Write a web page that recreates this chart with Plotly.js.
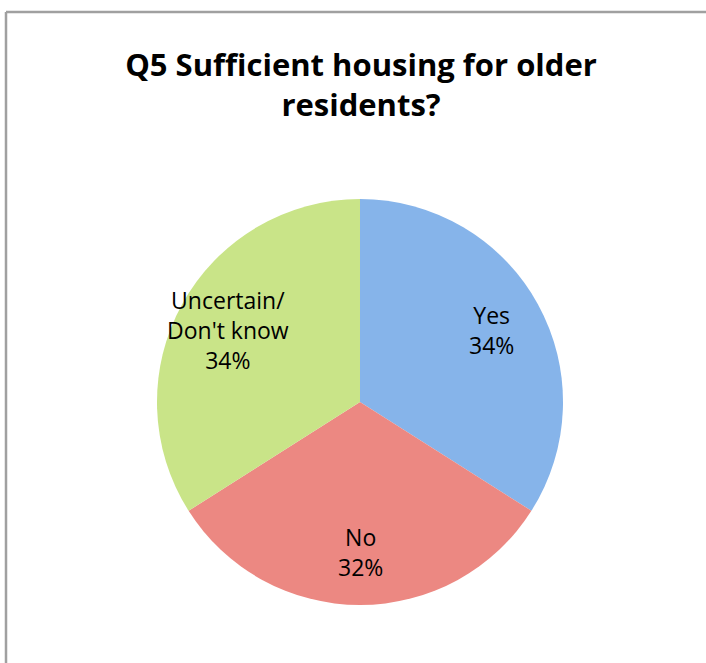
<!DOCTYPE html>
<html>
<head>
<meta charset="utf-8">
<script src="https://cdn.plot.ly/plotly-3.0.1.min.js"></script>
<style>html,body{margin:0;padding:0;background:#fff;}#chart{width:706px;height:663px;}</style>
</head>
<body>
<div id="chart"></div>
<script>
const categories = ["Yes", "No", "Uncertain/<br>Don't know"];
const values = [34, 32, 34];
const sliceColors = ["#86b4ea", "#ec8882", "#c9e488"];
const chartTitle = "Q5 Sufficient housing for older<br>residents?";

const W = 706, H = 663;
const pieBox = {left: 157, right: 563, top: 199, bottom: 605};
const dom = {x: [pieBox.left / W, pieBox.right / W], y: [(H - pieBox.bottom) / H, (H - pieBox.top) / H]};
const pie = {
  type: "pie", labels: categories, values: values, sort: false,
  direction: "clockwise", rotation: 0,
  marker: {colors: sliceColors, line: {width: 0}},
  textinfo: "none", hoverinfo: "none", showlegend: false, domain: dom
};

// data labels placed at each slice's mid-angle (computed from the values)
const total = values.reduce((a, b) => a + b, 0);
const cx = (pieBox.left + pieBox.right) / 2, cy = (pieBox.top + pieBox.bottom) / 2;
const R = (pieBox.right - pieBox.left) / 2;
const labelRadius = 0.74;
let cum = 0;
const annotations = values.map((v, i) => {
  const mid = (cum + v / 2) / total; cum += v;
  const th = 2 * Math.PI * mid;
  const px = cx + labelRadius * R * Math.sin(th);
  const py = cy - labelRadius * R * Math.cos(th);
  return {
    xref: "paper", yref: "paper", x: px / W, y: 1 - py / H,
    xanchor: "center", yanchor: "middle", align: "center", showarrow: false,
    text: categories[i] + "<br>" + Math.round(v / total * 100) + "%",
    font: {family: "'Open Sans', sans-serif", size: 23, color: "#000"}
  };
});

const layout = {
  width: W, height: H,
  margin: {l: 0, r: 0, t: 0, b: 0},
  paper_bgcolor: "#fff",
  title: {
    text: chartTitle,
    font: {family: "'Open Sans', sans-serif", size: 31, color: "#000", weight: "bold"},
    x: 361 / W, xanchor: "center",
    y: 1 - 76 / H, yanchor: "middle"
  },
  annotations: annotations,
  shapes: [
    {type: "line", xref: "paper", yref: "paper", x0: 6 / W, x1: 6 / W, y0: 0, y1: 1 - 12 / H, line: {color: "#a0a0a0", width: 2.5}},
    {type: "line", xref: "paper", yref: "paper", x0: 6 / W, x1: 1, y0: 1 - 12 / H, y1: 1 - 12 / H, line: {color: "#a0a0a0", width: 2.5}}
  ]
};
Plotly.newPlot("chart", [pie], layout, {displayModeBar: false, staticPlot: true});
</script>
</body>
</html>
